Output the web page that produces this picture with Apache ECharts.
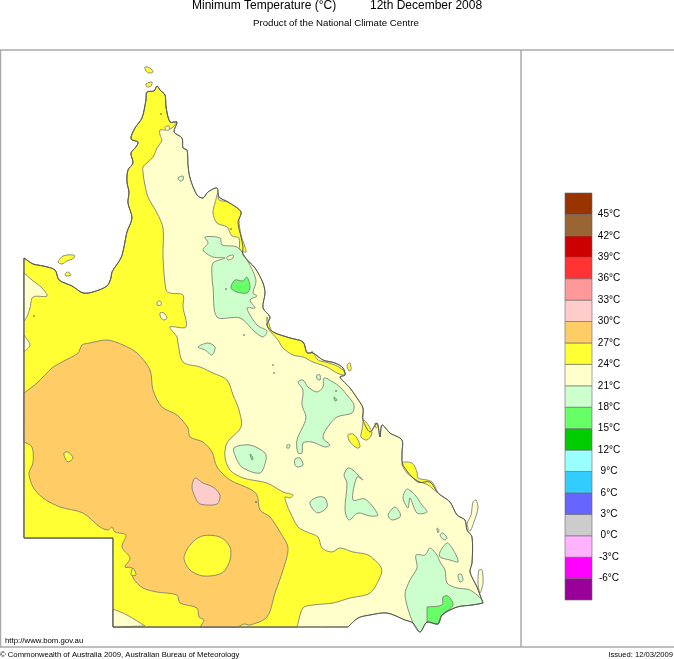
<!DOCTYPE html>
<html>
	<head>
		<meta charset="utf-8">
		<title>Minimum Temperature</title>
		<script src="https://cdn.jsdelivr.net/npm/echarts@6/dist/echarts.min.js"></script>
		<style>
			html,body{margin:0;padding:0;background:#fff;}
			#chart{width:674px;height:659px;}
		</style>
	</head>
	<body>
		<div id="chart"></div>
		<script>
			// colour scale, bottom to top
			var bandLows = [-9,-6,-3,0,3,6,9,12,15,18,21,24,27,30,33,36,39,42,45];
			var bandWidth = 3;
			var bandColors = ['#990099','#ff00ff','#ffb3ff','#cccccc','#6666ff','#33ccff','#99ffff','#00cc00','#66ff66','#ccffcc','#ffffcc','#ffff33','#ffcc66','#ffcccc','#ff9999','#ff3333','#cc0000','#996633','#993300'];
			var scaleTicks = [45,42,39,36,33,30,27,24,21,18,15,12,9,6,3,0,-3,-6];

			// digitised outlines, in map units. a point listed twice is a hard corner
			var gulfCoast = [[24,258],[24,258],[33,264],[43,266],[55,270],[59,280],[72,286],[83,293],[93,292],[107,286],[111,278],[112,272],[121,258],[124,247],[127,232],[132,218],[128,203],[129,192],[127,182],[128,170],[133,163],[131,153],[136,147],[138,142],[131,139],[135,128],[142,118],[146,100],[147,92],[154,91],[157,86],[160,90],[165,95],[166,107],[170,122],[177,122]];
			var eastCoast = [[174,132],[182,138],[183,148],[187,150],[188,165],[190,178],[197,195],[203,198],[208,192],[217,188],[219,197],[228,202],[241,212],[238,222],[241,237],[243,247],[243,255],[255,268],[263,283],[265,293],[263,308],[270,317],[267,325],[273,332],[290,338],[303,342],[307,353],[313,353],[323,360],[335,363],[343,368],[345,375],[340,377],[350,388],[357,398],[363,408],[363,420],[370,432],[377,423],[380,437],[382,425],[390,433],[402,440],[402,453],[403,465],[418,482],[430,482],[438,493],[450,502],[457,515],[465,520],[467,530],[472,537],[472,563],[470,572],[477,587],[483,603],[483,603]];
			var southBorder = [[472,605],[457,607],[442,615],[438,624],[427,622],[420,632],[413,623],[405,620],[387,613],[370,615],[358,618],[348,627],[348,627],[113,627],[113,627]];
			var westCorner = [[113,538],[113,538],[24,538],[24,538]];
			var yellowContour = [[177,122],[172,128],[165,130],[160,130],[160,135],[162,140],[157,148],[153,157],[143,167],[143,172],[144,180],[148,197],[157,213],[163,228],[163,257],[166,290],[170,293],[183,295],[183,307],[186,327],[170,327],[177,337],[178,343],[183,362],[200,367],[213,373],[227,380],[233,395],[239,410],[241,427],[227,443],[225,457],[230,470],[243,478],[267,483],[283,492],[293,495],[290,498],[285,497],[287,505],[290,512],[298,527],[307,532],[318,537],[322,548],[332,552],[340,548],[353,552],[368,555],[381,567],[381,575],[370,593],[350,598],[333,603],[313,605],[303,608],[297,627],[297,627],[113,627],[113,627]];
			var orangeCore = [[24,393],[24,393],[37,383],[52,368],[62,362],[78,353],[82,345],[90,343],[107,340],[123,345],[137,353],[150,370],[153,390],[162,407],[177,415],[188,428],[190,437],[203,442],[212,452],[217,467],[230,480],[250,489],[257,495],[260,510],[270,517],[280,532],[288,548],[283,570],[275,593],[267,617],[250,625],[244,624],[238,627],[238,627],[200,627],[200,627],[204,620],[199,617],[197,608],[180,603],[177,595],[157,592],[143,588],[133,578],[132,568],[125,567],[130,558],[122,547],[126,535],[115,532],[112,527],[108,530],[100,527],[83,513],[60,507],[43,498],[33,487],[29,473],[33,463],[32,447],[24,442],[24,442]];

			var paleWedges = [
				[[24,273],[24,273],[32,280],[42,288],[47,296],[33,297],[30,308],[27,317],[24,321],[24,321]],
				[[24,335],[24,335],[30,345],[24,352],[24,352]],
				[[113,609],[113,609],[127,615],[145,626],[145,626],[113,627],[113,627]],
				[[158,301],[161,302],[161,305],[157,305]],
				[[160,313],[164,313],[167,318],[164,320],[161,318]],
				[[165,127],[169,126],[169,130],[166,130]],
				[[287,346],[291,344],[292,347],[288,348]]
			];
			var yellowPatches = [
				[[218,193],[219,200],[228,202],[241,212],[239,220],[241,235],[245,247],[246,252],[240,250],[239,238],[232,236],[227,227],[217,223],[213,213],[215,203]],
				[[267,317],[270,327],[273,332],[290,338],[303,342],[307,352],[313,353],[318,360],[325,362],[335,365],[343,370],[345,375],[337,373],[327,367],[313,362],[303,357],[293,355],[283,348],[278,340],[268,328]],
				[[362,430],[364,420],[372,433],[367,440],[361,437]],
				[[348,435],[353,434],[358,440],[360,447],[357,448],[350,442]],
				[[402,463],[412,463],[417,472],[418,478],[427,480],[432,482],[437,492],[428,485],[418,481],[407,473]],
				[[64,453],[68,452],[73,458],[68,462],[65,458]],
				[[202,536],[220,537],[230,547],[230,560],[222,573],[203,576],[190,570],[184,558],[190,545]],
				[[133,568],[136,575],[131,575]]
			];
			var islands = [
				[[145,67],[150,68],[153,72],[149,73],[146,71]],
				[[146,84],[152,82],[151,86],[147,87]],
				[[58,262],[63,256],[74,255],[74,258],[67,261],[62,264]],
				[[65,274],[68,272],[71,275],[66,276]],
				[[347,365],[350,363],[351,370],[349,371]],
				[[375,423],[378,426],[376,428]]
			];
			var sandIslands = [
				[[473,502],[476,500],[478,508],[474,522],[470,531],[467,524],[471,515]],
				[[479,570],[482,570],[483,583],[480,593],[478,583]]
			];
			var greenPatches = [
				[[178,178],[183,176],[183,180],[180,181]],
				[[205,237],[220,238],[222,245],[237,247],[247,260],[256,280],[253,293],[257,296],[250,300],[255,308],[247,308],[257,325],[267,331],[263,337],[255,332],[240,318],[217,317],[213,287],[212,277],[213,263],[225,258],[213,257],[203,250],[208,243]],
				[[198,347],[208,343],[215,347],[212,355],[205,350]],
				[[298,382],[303,380],[308,387],[317,392],[323,387],[324,378],[333,382],[340,387],[347,395],[354,405],[352,413],[337,417],[327,428],[323,438],[330,445],[325,447],[312,442],[303,443],[302,453],[298,453],[297,440],[306,418],[302,405],[303,390]],
				[[317,375],[320,375],[320,380],[317,379]],
				[[234,448],[250,445],[265,453],[266,460],[260,473],[243,468],[237,460]],
				[[295,459],[300,458],[303,465],[298,467],[295,465]],
				[[287,445],[290,445],[289,448],[287,448]],
				[[348,468],[353,470],[358,475],[363,480],[357,477],[353,500],[365,499],[378,515],[370,516],[358,513],[349,520],[345,510],[347,483],[344,475]],
				[[310,502],[318,497],[325,498],[327,507],[318,513],[312,508]],
				[[388,515],[395,507],[400,513],[400,517],[392,520]],
				[[403,498],[407,489],[415,495],[422,505],[427,512],[417,513],[410,498],[408,508]],
				[[416,555],[425,555],[430,548],[437,555],[440,562],[445,570],[447,583],[457,588],[470,590],[483,602],[472,605],[457,607],[442,615],[438,624],[427,622],[420,632],[413,623],[405,595],[410,580],[417,568]],
				[[440,552],[447,543],[452,548],[457,557],[458,562],[450,560],[440,557]],
				[[440,535],[443,533],[447,538],[444,540]],
				[[437,528],[439,530],[438,533]],
				[[458,575],[461,574],[463,580],[460,582]]
			];
			var brightPatches = [
				[[231,288],[235,280],[243,281],[247,277],[250,287],[247,293],[237,292]],
				[[334,397],[337,400],[335,401]],
				[[250,454],[253,458],[252,460]],
				[[427,607],[427,607],[442,605],[443,597],[448,596],[453,605],[442,615],[438,624],[438,624],[427,622],[427,622]]
			];
			var pinkPatch = [[195,478],[203,483],[213,487],[220,495],[217,504],[200,504],[195,497],[192,487]];
			var paleHoles = [[[227,257],[233,255],[233,258],[228,260]]];
			var specks = [[34,316],[161,114],[256,502],[231,229],[226,289],[336,391],[244,335],[273,365],[312,352],[274,373]];

			var coastline = gulfCoast.concat(eastCoast, southBorder, westCorner);

			// paint order matters: each band sits on the one below it
			var regions = [{ low: 21, pts: coastline }];
			regions.push({ low: 24, pts: yellowContour.concat(westCorner, gulfCoast) });
			paleWedges.forEach(function(p){ regions.push({ low: 21, pts: p }); });
			regions.push({ low: 27, pts: orangeCore });
			yellowPatches.forEach(function(p){ regions.push({ low: 24, pts: p }); });
			islands.forEach(function(p){ regions.push({ low: 24, pts: p }); });
			sandIslands.forEach(function(p){ regions.push({ low: 21, pts: p }); });
			greenPatches.forEach(function(p){ regions.push({ low: 18, pts: p }); });
			paleHoles.forEach(function(p){ regions.push({ low: 21, pts: p }); });
			brightPatches.forEach(function(p){ regions.push({ low: 15, pts: p }); });
			regions.push({ low: 30, pts: pinkPatch });
			regions.push({ low: null, pts: coastline });

			var FONT = '"Liberation Sans", Arial, sans-serif';
			var myChart = echarts.init(document.getElementById('chart'), null, { renderer: 'canvas' });

			function textOf(text, left, top, size, right){
				var t = { text: text, top: top, textStyle: { fontFamily: FONT, fontSize: size, fontWeight: 'normal', color: '#000' }, padding: 0 };
				if(right !== undefined){ t.right = right; } else { t.left = left; }
				return t;
			}
			function frameLine(x1, y1, x2, y2){
				return { type: 'line', shape: { x1: x1, y1: y1, x2: x2, y2: y2 }, style: { stroke: '#aaaaaa', lineWidth: 1.5 } };
			}

			myChart.setOption({
				animation: false,
				backgroundColor: '#fff',
				title: [
					textOf('Minimum Temperature (°C)', 192, 0, 12),
					textOf('12th December 2008', 370, 0, 12),
					textOf('Product of the National Climate Centre', 253, 18, 9.7),
					textOf('http://www.bom.gov.au', 5, 637, 7.8),
					textOf('© Commonwealth of Australia 2009, Australian Bureau of Meteorology', 0, 651, 7.7),
					textOf('Issued: 12/03/2009', 0, 651, 7.6, 1)
				],
				grid: [
					{ left: 0, top: 50, width: 674, height: 597 },
					{ left: 565, top: 193, width: 27, height: 407 }
				],
				xAxis: [
					{ type: 'value', gridIndex: 0, min: 0, max: 674, show: false },
					{ type: 'value', gridIndex: 1, min: 0, max: 1, show: false }
				],
				yAxis: [
					{ type: 'value', gridIndex: 0, min: 50, max: 647, inverse: true, show: false },
					{
						type: 'value', gridIndex: 1, position: 'right', min: -9, max: 48, interval: bandWidth,
						axisLine: { show: false }, axisTick: { show: false }, splitLine: { show: false },
						axisLabel: {
							margin: 17, align: 'center', fontFamily: FONT, fontSize: 10, color: '#000',
							formatter: function(v){ return scaleTicks.indexOf(v) >= 0 ? v + '°C' : ''; }
						}
					}
				],
				// frame runs off the right edge of the page
				graphic: [
					frameLine(0, 50, 674, 50),
					frameLine(0, 647, 674, 647),
					frameLine(0.5, 50, 0.5, 647),
					frameLine(521, 50, 521, 647)
				],
				series: [
					{
						type: 'custom', xAxisIndex: 0, yAxisIndex: 0, silent: true, clip: false,
						data: regions.map(function(r, i){ return [i]; }),
						renderItem: function(params, api){
							var r = regions[params.dataIndex];
							var isCoast = r.low === null;
							return {
								type: 'polygon',
								shape: { points: r.pts.map(function(p){ return api.coord(p); }), smooth: 0.3 },
								style: {
									fill: isCoast ? 'none' : bandColors[bandLows.indexOf(r.low)],
									stroke: isCoast ? '#505050' : '#808078',
									lineWidth: 0.9
								}
							};
						}
					},
					{
						type: 'scatter', xAxisIndex: 0, yAxisIndex: 0, silent: true,
						symbolSize: 1.6, itemStyle: { color: '#222' }, data: specks
					},
					{
						type: 'custom', xAxisIndex: 1, yAxisIndex: 1, silent: true, clip: false,
						data: bandLows.map(function(low){ return [0, low]; }),
						renderItem: function(params, api){
							var low = api.value(1);
							var a = api.coord([0, low + bandWidth]);
							var b = api.coord([1, low]);
							return {
								type: 'rect',
								shape: { x: a[0], y: a[1], width: b[0] - a[0], height: b[1] - a[1] },
								style: { fill: bandColors[params.dataIndex], stroke: '#666', lineWidth: 0.6 }
							};
						}
					}
				]
			});
		</script>
	</body>
</html>
